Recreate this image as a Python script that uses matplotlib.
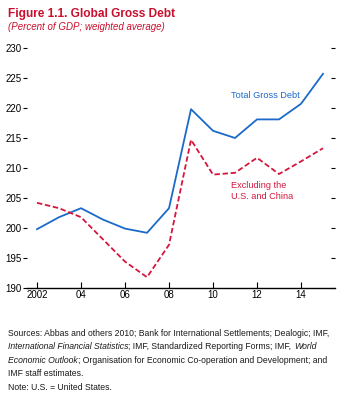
import matplotlib
matplotlib.use("Agg")
from matplotlib import pyplot as plt
import numpy as np

plt.rcParams['font.family'] = ['Liberation Sans', 'DejaVu Sans']

years = [2002, 2003, 2004, 2005, 2006, 2007, 2008, 2009, 2010, 2011, 2012, 2013, 2014, 2015]
total_gross_debt = [199.8, 201.8, 203.3, 201.4, 199.9, 199.2, 203.3, 219.8, 216.2, 215.0, 218.1, 218.1, 220.7, 225.7]
excl_us_china = [204.2, 203.3, 201.8, 198.1, 194.4, 191.8, 197.2, 214.7, 208.9, 209.2, 211.7, 209.0, 211.1, 213.3]
x_ticks = [2002, 2004, 2006, 2008, 2010, 2012, 2014]
x_tick_labels = ["2002", "04", "06", "08", "10", "12", "14"]
y_ticks = [190, 195, 200, 205, 210, 215, 220, 225, 230]

red_title = "#C8102E"
blue = "#1B6AC9"
red_line = "#D4163C"

fig = plt.figure(figsize=(3.46, 3.98), dpi=100)
ax = fig.add_axes([27 / 346, 1 - 288 / 398, 308 / 346, 240 / 398])

ax.plot(years, total_gross_debt, color=blue, lw=1.3)
ax.plot(years, excl_us_china, color=red_line, lw=1.3, ls=(0, (3, 1.5)))

ax.set_xlim(2001.545, 2015.545)
ax.set_ylim(190, 230)
ax.set_xticks(x_ticks)
ax.set_xticklabels(x_tick_labels)
ax.set_yticks(y_ticks)
for s in ['left', 'right', 'top']:
    ax.spines[s].set_visible(False)
ax.spines['bottom'].set_linewidth(1.0)
ax.tick_params(axis='x', direction='in', length=4, width=0.8, labelsize=7, pad=1.5)
ax.tick_params(axis='y', direction='out', length=3, width=0.8, labelsize=7, pad=1,
               right=True)
for t in ax.yaxis.get_major_ticks():
    t.tick2line.set_marker(0)  # small dash pointing in on the right

ax.text(2010.8, 222.0, "Total Gross Debt", color=blue, fontsize=6.6, ha='left', va='center')
ax.text(2010.8, 206.1, "Excluding the\nU.S. and China", color=red_line, fontsize=6.6,
        ha='left', va='center', linespacing=1.3)

fig.text(8 / 346, 1 - 14 / 398, "Figure 1.1. Global Gross Debt", color=red_title,
         fontsize=8.6, fontweight='bold', ha='left', va='center')
fig.text(8 / 346, 1 - 26.5 / 398, "(Percent of GDP; weighted average)", color=red_title,
         fontsize=7.0, style='italic', ha='left', va='center')

# source notes, mixed italic pieces
notes = [
    [("Sources: Abbas and others 2010; Bank for International Settlements; Dealogic; IMF,", 'normal')],
    [("International Financial Statistics", 'italic'), ("; IMF, Standardized Reporting Forms; IMF, ", 'normal'),
     ("World", 'italic')],
    [("Economic Outlook", 'italic'), ("; Organisation for Economic Co-operation and Development; and", 'normal')],
    [("IMF staff estimates.", 'normal')],
    [("Note: U.S. = United States.", 'normal')],
]
line_y = [333.3, 346.8, 360.3, 373.8, 387.3]
renderer = fig.canvas.get_renderer()

# shrink the note size so the first line spans the same width as the reference
probe = fig.text(0, 0, notes[0][0][0], fontsize=7.0)
w = probe.get_window_extent(renderer=renderer).width
probe.remove()
note_size = 7.0 * 317 / w

for pieces, yy in zip(notes, line_y):
    x0 = 8.0
    for txt, st in pieces:
        t = fig.text(x0 / 346, 1 - yy / 398, txt, fontsize=note_size, style=st, ha='left', va='center',
                     color='#1a1a1a')
        bb = t.get_window_extent(renderer=renderer)
        x0 += bb.width

fig.savefig("out.png", dpi=100)
